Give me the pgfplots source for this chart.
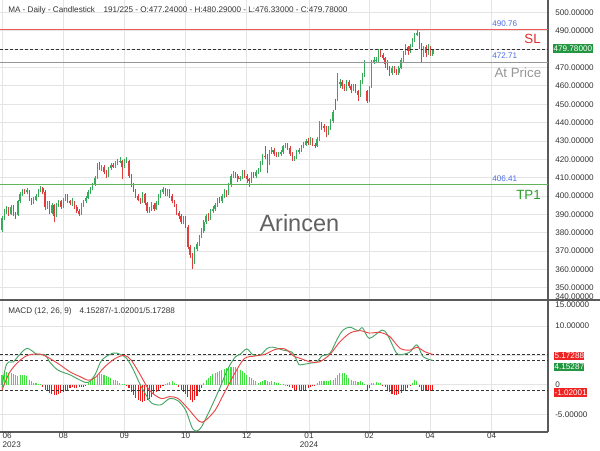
\documentclass[border=0pt]{standalone}
\usepackage{pgfplots}
\pgfplotsset{compat=1.18}
\usepackage{pgfplotstable}
\usepackage{fontspec}
\setmainfont{Liberation Sans}
\definecolor{cup}{RGB}{56,168,90}
\definecolor{cdn}{RGB}{222,62,62}
\definecolor{hup}{RGB}{60,225,60}
\definecolor{hdn}{RGB}{235,25,25}
\definecolor{macdg}{RGB}{70,165,100}
\definecolor{macdr}{RGB}{235,70,70}
\definecolor{gridc}{RGB}{228,228,228}
\definecolor{lbl}{RGB}{51,51,51}
\definecolor{slred}{RGB}{240,90,90}
\definecolor{slt}{RGB}{225,45,45}
\definecolor{apg}{RGB}{150,150,150}
\definecolor{tpg}{RGB}{100,180,90}
\definecolor{tpt}{RGB}{40,160,40}
\definecolor{bluel}{RGB}{75,110,230}
\definecolor{boxg}{RGB}{35,150,65}
\definecolor{boxr}{RGB}{240,35,35}
\definecolor{axc}{RGB}{90,90,90}
\newcommand{\two}[2]{\begin{tabular}[t]{@{}c@{}}#1\\#2\end{tabular}}
\newcommand{\twol}[2]{\rlap{\begin{tabular}[t]{@{}l@{}}#1\\#2\end{tabular}}}
\newcommand{\sm}{\fontsize{6.1}{6.3}\selectfont}

\pgfplotstableread{
i o h l c
0 381.5 389 380.5 388
1 388.5 393 387 392
2 391.5 394.5 390 393
3 393.5 394 389 390
4 390 395 389.5 394
5 394 395 389 390
6 390.5 391.5 387.5 389
7 389.5 398 389 397
8 397 402 396 401
9 401 404 400 403
10 403.5 404 401 402
11 402 404.5 401 403
12 403 403.5 397 398
13 398.5 399 395 396
14 396 399.5 395.5 398
15 398 401 397 400
16 400 404 399.5 403
17 403 405.5 402 404
18 404.5 405 401 402
19 402 403 392.5 394
20 394 397 393 396
21 396.5 397 390 391
22 391 396 390 395
23 395 395.5 386 389
24 389 396 388.5 395
25 395 398 394 397
26 397 398 393 394
27 394 399 393.5 398
28 398 401 397 400
29 400 401 396 397
30 397 398 395 396
31 395.5 399 394.5 396
32 396.5 397 393 394
33 394 395 391 392
34 392 393 389 390
35 390 396 389.5 395
36 395 398 394 397
37 397 400 396 399
38 399 403 398.5 402
39 402 405 401 404
40 404 407 403 406
41 406 411 405.5 410
42 410 418 409.5 417
43 417 418.5 414 415
44 415 417 413.5 416
45 416 417 412 413
46 413 414 410 411
47 411 416 410.5 415
48 415 418 414 417
49 417 418 415 416
50 416 419 415.5 418
51 418 420 417 419
52 418.5 421 418 419
53 419 419.5 409 416
54 416 420 415 419
55 419 421 418 420
56 419 419.5 410 411
57 411 412 405 406
58 406 407 402 403
59 403 404 399 400
60 400 401 397 398
61 398 399 395.5 397
62 397 402 396 401
63 401 401.5 395 396
64 396 396.5 390.5 392
65 392 394 391 393
66 393 396.5 392 395
67 395 396 392 393
68 393 397 392.5 396
69 396 401 395 400
70 400 403 399 402
71 402 405 401 404
72 404 404.5 400 401
73 401 404 400 403
74 403 404 399 400
75 400 401 396 397
76 397 398 394 395
77 395 395.5 389.5 391
78 391 392 387.5 389
79 389 390 385 386
80 386 389 385 388
81 388 389 382.5 384
82 383 384 371 372
83 372 373.5 366 368
84 368 369 360 364
85 364 372 363 371
86 371 375 370 374
87 374 379 373 378
88 378 382.5 377 381
89 381 387 380 386
90 386 390 385 389
91 389 390.5 386.5 388
92 388 393 387 392
93 392 394.5 391 393
94 393 396 392 395
95 395 399 394 398
96 398 399.5 396 397
97 397 401 396 400
98 400 404 399 403
99 403 403.5 399.5 401
100 401 407 400.5 406
101 406 412 405 411
102 411 413.5 410 412
103 412 413 410 411
104 411 412 407.5 409
105 409 411 408 410
106 410 414 409 413
107 413 414 410 411
108 411 412 407 409
109 409 410 405 408
110 408 413 407 412
111 412 413 410 411
112 411 414 410 413
113 413 415.5 412 414
114 414 419 413 418
115 418 423 417 422
116 422 427 420 421
117 421 423 412.5 418
118 418 425 417 424
119 424 426.5 423 425
120 425 426 422 423
121 423 424 421 422
122 422 424 421 423
123 423 425 422 424
124 424 428 423 427
125 427 429 426 428
126 428 429 425 426
127 426 427 422 423
128 423 424 419 420
129 420 422 419 421
130 421 425 420 424
131 424 426 423 425
132 425 428 424 427
133 427 429.5 426 428
134 428 431 427 430
135 430 431.5 428 429
136 429 432 428 431
137 431 431.5 427 428
138 428 429 426 427
139 427 432 426.5 431
140 431 441 430 439
141 439 440.5 436 438
142 438 439 435 437
143 437 438 432 434
144 434 438 433 437
145 437 442 436 441
146 441 447 440 446
147 451 453 447 448
148 453 467 452 461
149 461 464 459 462
150 462 463 458.5 460
151 460 461 457 458
152 458 463 457 462
153 462 463 459 460
154 460 461 456 458
155 458 461 457 460
156 460 461 456 457
157 457 458 452 455
158 455 463 454 462
159 462 467 461 466
160 466 474 465 473
161 457 458 450.5 452
162 452 460 451 459
163 460 474 459 473
164 473 476 472 474
165 473.5 476 472.5 474
166 474 480 473 479
167 479 480 476 477
168 477 478 474 475
169 475 476 470 472
170 472 474 468.5 470
171 470 471 465.5 467
172 467 471 466 470
173 470 471 467 468
174 468 469 466 467
175 467 471 466 470
176 470 475 469 474
177 474 479 473 478
178 478 483 477 481
179 481 482 477 479
180 479 483 478 482
181 482 486 481 485
182 485 489 484 488
183 488 490.5 487 489
184 489 489.5 480 482
185 482 483.5 473 477
186 477 482 476 481
187 481 482.5 476 478
188 478 483 477 481
189 481 482 476.5 477.24
190 477.24 480.29 476.33 479.78
}\ohlc

\pgfplotstableread{
i h
0 1.6
1 2.0
2 2.2
3 2.1
4 2.0
5 1.8
6 1.6
7 1.5
8 1.6
9 1.7
10 1.7
11 1.5
12 0.8
13 0.6
14 0.4
15 0.3
16 0.2
17 0.1
18 -0.3
19 -0.8
20 -1.1
21 -1.3
22 -1.5
23 -1.7
24 -1.7
25 -1.6
26 -1.4
27 -1.2
28 -1.0
29 -0.8
30 -0.6
31 -0.4
32 -0.5
33 -0.5
34 -0.4
35 -0.4
36 -0.3
37 -0.2
38 0.3
39 0.7
40 1.1
41 1.4
42 1.6
43 1.8
44 1.8
45 1.7
46 1.5
47 1.3
48 1.1
49 0.9
50 0.8
51 0.6
52 0.4
53 0.2
54 0.1
55 -0.1
56 -0.6
57 -1.2
58 -1.8
59 -2.3
60 -2.6
61 -2.8
62 -2.9
63 -2.8
64 -2.6
65 -2.4
66 -2.0
67 -1.6
68 -1.2
69 -0.8
70 -0.5
71 -0.2
72 0.2
73 0.4
74 0.5
75 0.6
76 0.4
77 0.2
78 -0.4
79 -0.8
80 -1.2
81 -1.6
82 -2.0
83 -2.5
84 -2.9
85 -2.5
86 -1.9
87 -1.2
88 -0.5
89 0.4
90 0.8
91 1.2
92 1.5
93 1.8
94 2.0
95 2.2
96 2.4
97 2.6
98 2.7
99 2.9
100 3.0
101 3.1
102 3.1
103 3.0
104 2.8
105 2.6
106 2.3
107 2.0
108 1.7
109 1.4
110 1.1
111 0.8
112 0.6
113 0.4
114 0.5
115 0.6
116 0.8
117 0.7
118 0.5
119 0.6
120 0.5
121 0.4
122 0.3
123 0.2
124 0.1
125 0.05
126 -0.1
127 -0.3
128 -0.6
129 -0.9
130 -1.0
131 -1.1
132 -1.1
133 -1.0
134 -0.8
135 -0.6
136 -0.4
137 -0.2
138 -0.1
139 0.3
140 0.6
141 0.7
142 0.7
143 0.6
144 0.7
145 0.8
146 0.9
147 1.2
148 1.7
149 2.1
150 2.1
151 2.0
152 1.6
153 1.1
154 0.8
155 0.6
156 0.6
157 0.5
158 0.6
159 0.5
160 0.2
161 -0.9
162 -0.6
163 0.3
164 0.4
165 0.5
166 0.4
167 0.3
168 -0.1
169 -0.4
170 -0.8
171 -1.2
172 -1.5
173 -1.7
174 -1.7
175 -1.6
176 -1.4
177 -1.1
178 -0.8
179 -0.5
180 -0.2
181 0.4
182 0.8
183 0.6
184 -0.4
185 -0.8
186 -1.0
187 -1.0
188 -0.9
189 -1.0
190 -1.02
}\hist

\pgfplotsset{
  common/.style={
    scale only axis, width=411pt, anchor=south west,
    xmin=-0.88, xmax=240.8,
    axis x line*=bottom, axis y line*=right,
    axis line style={draw=axc, line width=0.9pt},
    major tick length=0pt,
    grid=major, grid style={draw=gridc, line width=0.6pt},
    xtick={0.31,27.04,53.95,81.03,107.9,135.4,161.9,188.8,215.9},
    scaled y ticks=false,
    yticklabel style={anchor=west, inner sep=0pt, xshift=5.25pt, font=\sm, text=lbl,
      /pgf/number format/fixed, /pgf/number format/fixed zerofill,
      /pgf/number format/precision=5, /pgf/number format/assume math mode=true},
    xticklabel style={anchor=north, inner sep=0pt, yshift=-0.6pt, font=\sm, text=lbl},
  }
}

\begin{document}
\begin{tikzpicture}
\useasboundingbox (0,0) rectangle (450pt,337.5pt);
\fill[white] (0,0) rectangle (450pt,337.5pt);

% ---------------- main price panel ----------------
\begin{axis}[common,
  at={(0pt,112.5pt)}, height=225pt,
  ymin=343.32, ymax=506.81,
  ytick={350,360,...,500},
  xticklabels={,,,,,,,,},
]
% up candles (zero-length segments for the other colour draw nothing)
\addplot[cup, line width=0.5pt, line cap=butt,
  quiver={u=0, v={(\thisrow{c}>=\thisrow{o}) ? (\thisrow{h}-\thisrow{l}) : 0}}] table[x=i, y=l] {\ohlc};
\addplot[cup, line width=1.05pt, line cap=butt,
  quiver={u=0, v={(\thisrow{c}>=\thisrow{o}) ? (\thisrow{c}-\thisrow{o}) : 0}}] table[x=i, y=o] {\ohlc};
% down candles
\addplot[cdn, line width=0.5pt, line cap=butt,
  quiver={u=0, v={(\thisrow{c}<\thisrow{o}) ? (\thisrow{h}-\thisrow{l}) : 0}}] table[x=i, y=l] {\ohlc};
\addplot[cdn, line width=1.05pt, line cap=butt,
  quiver={u=0, v={(\thisrow{c}<\thisrow{o}) ? (\thisrow{c}-\thisrow{o}) : 0}}] table[x=i, y=o] {\ohlc};
\addplot[slred, line width=0.8pt] coordinates {(-0.88,490.76) (240.8,490.76)};
\addplot[apg, line width=0.8pt] coordinates {(-0.88,472.71) (240.8,472.71)};
\addplot[tpg, line width=0.8pt] coordinates {(-0.88,406.41) (240.8,406.41)};
\addplot[black!80, line width=0.6pt, dash pattern=on 2.2pt off 1.6pt] coordinates {(-0.88,479.78) (240.8,479.78)};
\end{axis}

% ---------------- MACD panel ----------------
\begin{axis}[common,
  at={(0pt,13.5pt)}, height=99pt,
  ymin=-8.0, ymax=14.41,
  ytick={-5,0,5,10},
  yticklabels={-5.00000,0,,10.00000},
  xticklabels={\twol{06}{2023},08,09,10,12,\two{01}{2024},02,04,04},
]
\addplot[ycomb, hup, line width=0.8pt, restrict y to domain=0:100] table[x=i, y=h] {\hist};
\addplot[ycomb, hdn, line width=0.8pt, restrict y to domain=-100:0] table[x=i, y=h] {\hist};
\addplot[black!80, line width=0.6pt, dash pattern=on 2.2pt off 1.6pt] coordinates {(-0.88,5.17288) (240.8,5.17288)};
\addplot[black!80, line width=0.6pt, dash pattern=on 2.2pt off 1.6pt] coordinates {(-0.88,4.15287) (240.8,4.15287)};
\addplot[black!80, line width=0.6pt, dash pattern=on 2.2pt off 1.6pt] coordinates {(-0.88,-1.02001) (240.8,-1.02001)};
\addplot[macdg, line width=0.7pt, smooth, tension=0.5] coordinates {
(0,-0.6) (1,2.0) (2,3.5) (3,3.9) (5,3.9) (7,4.8) (11,6.2) (15.4,5.2) (19,5.1) (21,3.9) (24.7,2.5) (30,1.7) (35,0.7) (38,0.4) (41,1.7) (44,4.2) (49,5.4) (52,5.2) (55,4.5) (58,2.5) (61,0) (64,-2.0) (66,-3.1) (70,-3.4) (74,-2.3) (77.6,-2.7) (81,-4.3) (84,-7.4) (86,-7.8) (88,-7.1) (92,-4.0) (96,-0.6) (99.7,2.8) (103,4.8) (105,5.2) (108,6.1) (110.7,5.1) (114,5.1) (117,6.2) (119.5,6.4) (124,5.9) (128,5.5) (130.6,3.7) (131.5,3.4) (136,3.7) (139,3.9) (141,4.9) (144.7,5.4) (148,7.9) (150.4,9.3) (153.5,9.8) (157,9.2) (159,9.7) (162,7.9) (167.6,9.3) (170,8.5) (174,5.4) (177,5.2) (180,5.6) (183,6.8) (185.7,4.8) (190,4.15287)};
\addplot[macdr, line width=0.7pt, smooth, tension=0.5] coordinates {
(0,-0.9) (3.5,2.2) (8,4.2) (12,5.1) (17,5.2) (21,4.5) (25.6,3.4) (30,2.2) (34.4,1.4) (38,0.8) (41,1.2) (45.4,3.1) (50,4.5) (54,5.0) (57,4.2) (61,1.7) (65,-0.9) (70,-2.3) (74,-2.0) (77.6,-2.3) (82,-4.0) (87,-6.2) (89.5,-6.1) (94,-4.3) (98,-1.4) (103,2.2) (107,4.5) (111.6,4.9) (116,5.2) (120.4,6.0) (124.8,6.1) (129,4.8) (131.5,4.5) (136,3.9) (140,3.9) (144.7,5.2) (149,7.3) (153.5,8.8) (158,9.2) (162,8.8) (166.7,8.9) (171,8.2) (175.6,6.2) (180,5.9) (183,6.4) (186.6,5.6) (190,5.17288)};
\end{axis}

% ---------------- annotations (pixel coordinates) ----------------
\begin{scope}[x=0.75pt, y=-0.75pt, shift={(0pt,337.5pt)}]
\draw[axc, line width=0.9pt] (0,300) -- (600,300);
\node[anchor=west, inner sep=0pt, font=\sm, text=lbl] at (8,10.7)
  {MA - Daily - Candlestick\hspace{6.5pt}191/225 - O:477.24000 - H:480.29000 - L:476.33000 - C:479.78000};
\node[anchor=west, inner sep=0pt, font=\sm, text=lbl] at (8,311)
  {MACD (12, 26, 9)\hspace{6pt}4.15287/-1.02001/5.17288};
\node[anchor=base west, inner sep=0pt, font=\fontsize{17.6}{18}\selectfont, text=black!62] at (259.3,231.7) {Arincen};
% price line labels
\node[anchor=west, inner sep=0pt, font=\sm, text=bluel] at (492,23.3) {490.76};
\node[anchor=west, inner sep=0pt, font=\sm, text=bluel] at (492,55.7) {472.71};
\node[anchor=west, inner sep=0pt, font=\sm, text=bluel] at (492,178.3) {406.41};
\node[anchor=east, inner sep=0pt, font=\fontsize{10}{11}\selectfont, text=slt] at (541,39.3) {SL};
\node[anchor=east, inner sep=0pt, font=\fontsize{10}{11}\selectfont, text=apg] at (541.5,72.7) {At Price};
\node[anchor=east, inner sep=0pt, font=\fontsize{10}{11}\selectfont, text=tpt] at (541,195) {TP1};
% right boxes
\node[anchor=west, fill=boxg, text=white, inner xsep=0.5pt, inner ysep=0pt, minimum height=6.75pt, font=\sm] at (552.7,48.8) {479.78000};
\node[anchor=west, fill=boxr, text=white, inner xsep=0.3pt, inner ysep=0pt, minimum height=6.3pt, font=\sm] at (554,355.8) {5.17288};
\node[anchor=west, fill=boxg, text=white, inner xsep=0.3pt, inner ysep=0pt, minimum height=6.3pt, font=\sm] at (554,366.8) {4.15287};
\node[anchor=west, fill=boxr, text=white, inner xsep=0.3pt, inner ysep=0pt, minimum height=6.3pt, font=\sm] at (554,392.5) {-1.02001};
% clamped axis labels
\node[anchor=west, inner sep=0pt, font=\sm, text=lbl] at (555,296.7) {340.00000};
\node[anchor=west, inner sep=0pt, font=\sm, text=lbl] at (555,304.3) {15.00000};
\end{scope}
\end{tikzpicture}
\end{document}
